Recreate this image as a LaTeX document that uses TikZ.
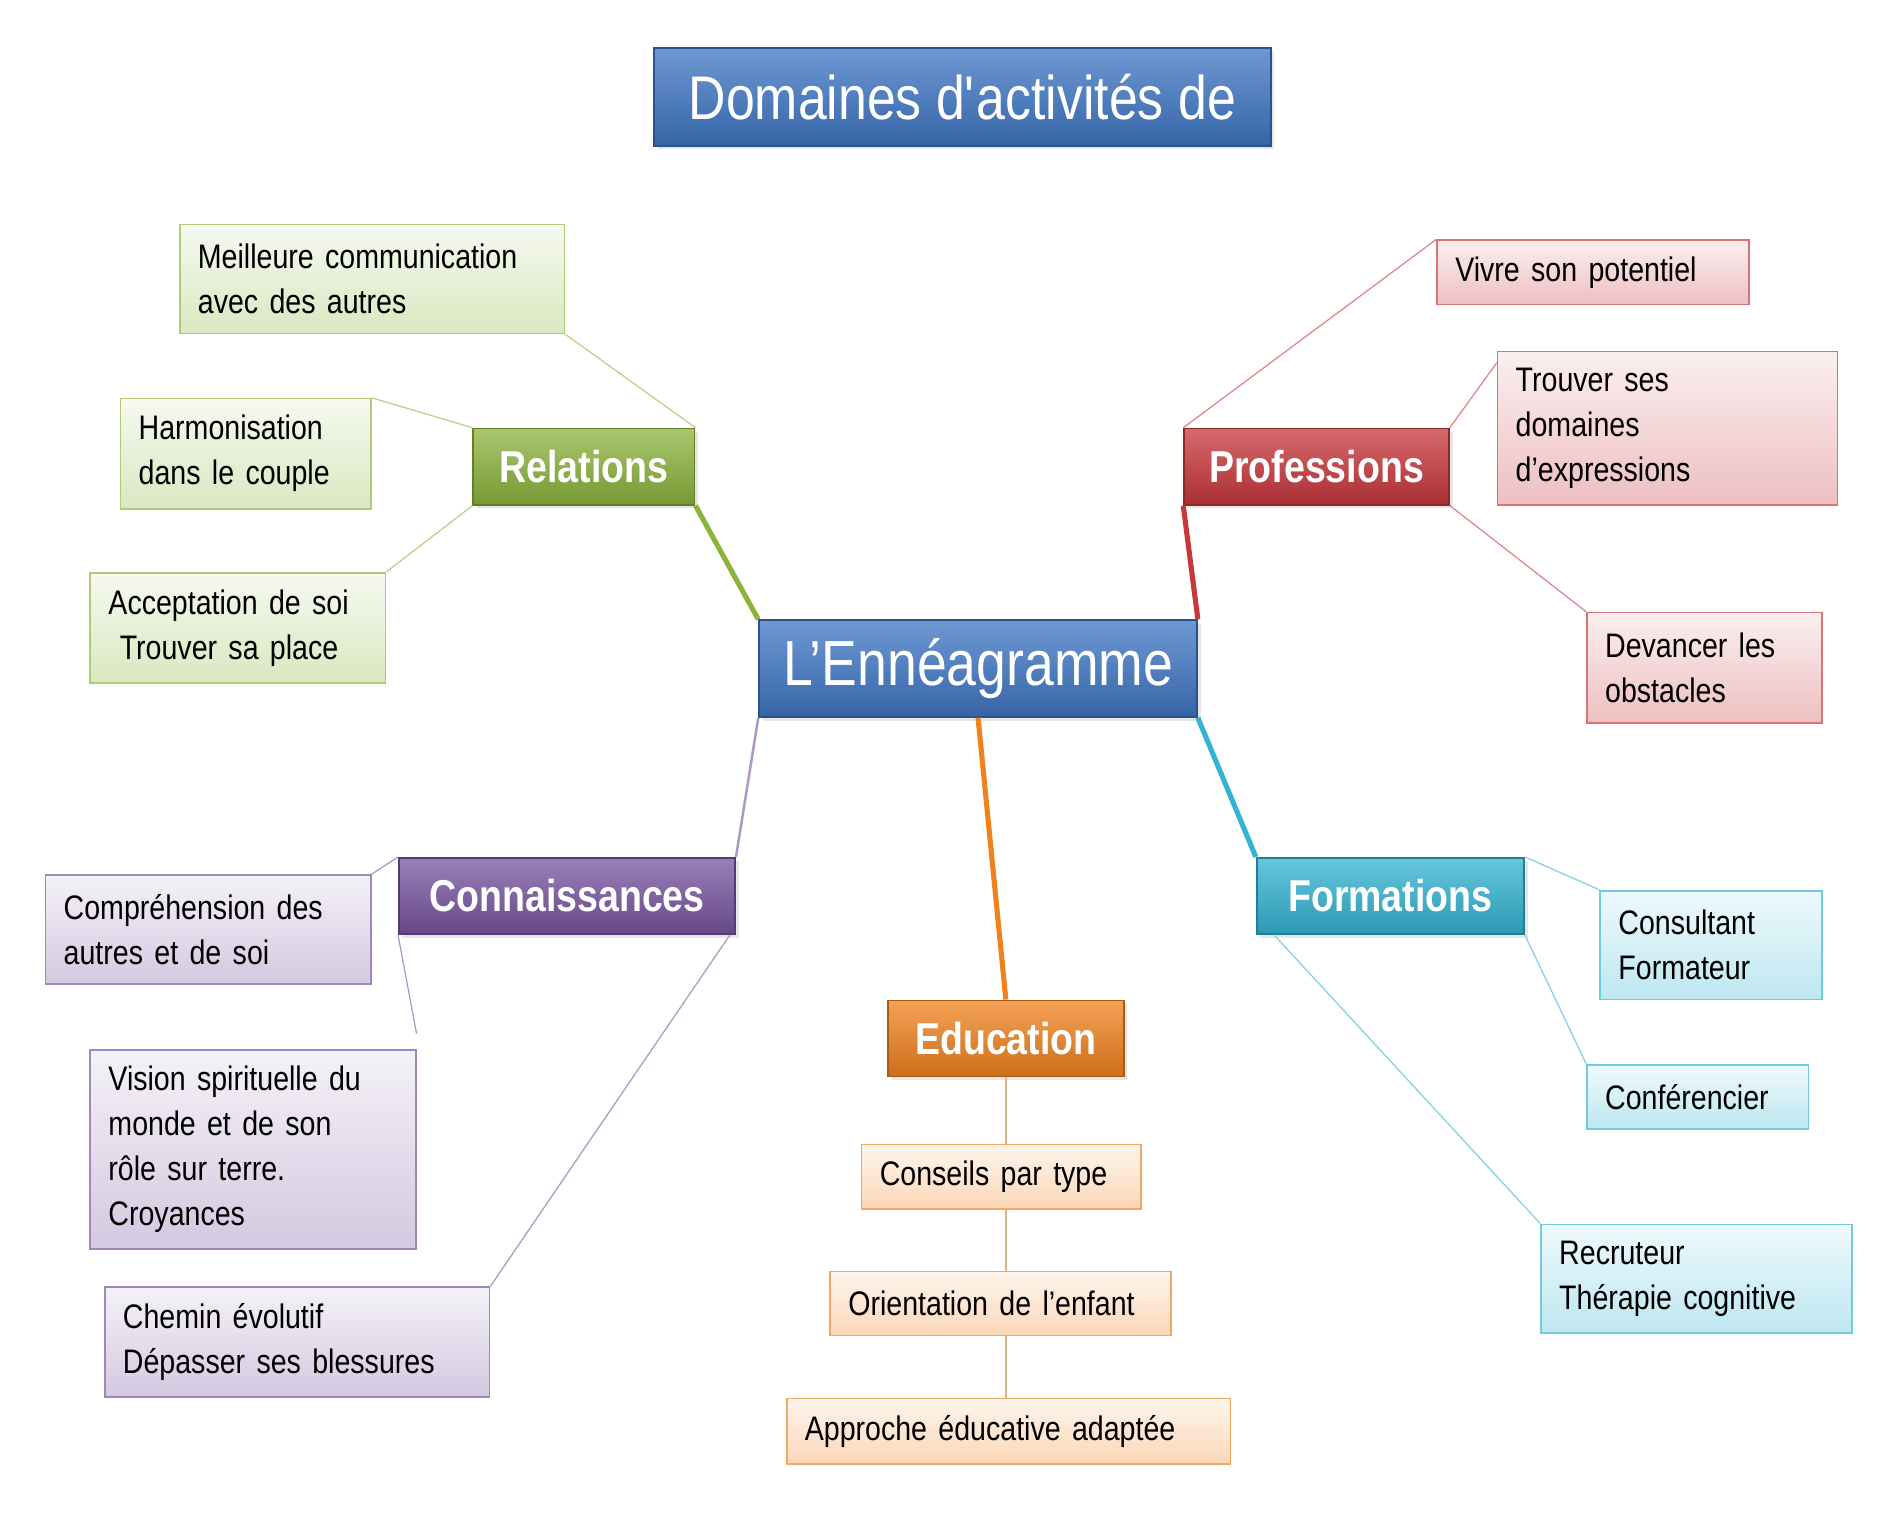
\documentclass[tikz,border=0pt]{standalone}
\usepackage{fontspec}
\setmainfont{Liberation Sans}[FakeStretch=0.84]
\usetikzlibrary{shadows}
\definecolor{titleblue}{RGB}{62,118,196}
\definecolor{relgreen}{RGB}{140,180,60}
\definecolor{prored}{RGB}{200,55,60}
\definecolor{conpurple}{RGB}{120,85,160}
\definecolor{forcyan}{RGB}{50,180,210}
\definecolor{eduorange}{RGB}{240,130,30}
\tikzset{
  branch/.style={draw=#1!70!black, top color=#1!75!white, bottom color=#1!85!black,
    text=white, font=\fontsize{10.5}{12}\selectfont\bfseries,
    drop shadow={opacity=0.2, shadow xshift=0.03cm, shadow yshift=-0.03cm}},
  leafbox/.style 2 args={draw=#1!70!white, top color=#1!8!white, bottom color=#1!32!white,
    align=left, font=\fontsize{8}{10.6}\selectfont, anchor=north west,
    inner xsep=0.15cm, text width=#2},
  link/.style={draw=#1!60!white, line width=0.3pt},
  mainlink/.style={draw=#1, line width=1.2pt}
}
\begin{document}
\begin{tikzpicture}[x=0.01cm,y=-0.01cm]
\useasboundingbox (0,0) rectangle (1560,1253);
% title and centre
\node[branch=titleblue, font=\fontsize{14.5}{17}\selectfont, minimum width=5.1cm, minimum height=0.81cm]
  (title) at (796,80) {Domaines d\textquotesingle activités de};
\node[branch=titleblue, font=\fontsize{15}{18}\selectfont, minimum width=3.62cm, minimum height=0.8cm]
  (centre) at (809,553) {L’Ennéagramme};
% branches
\node[branch=relgreen, minimum width=1.83cm, minimum height=0.63cm] (rel) at (483,386) {Relations};
\node[branch=prored, minimum width=2.19cm, minimum height=0.63cm] (pro) at (1089,386) {Professions};
\node[branch=conpurple, minimum width=2.78cm, minimum height=0.63cm] (con) at (469,741) {Connaissances};
\node[branch=forcyan, minimum width=2.21cm, minimum height=0.63cm] (for) at (1150,741) {Formations};
\node[branch=eduorange, minimum width=1.95cm, minimum height=0.63cm] (edu) at (832,859) {Education};
% leaves
\node[leafbox={relgreen}{2.88cm}, minimum height=0.9cm] (rel1) at (148,185) {Meilleure communication\\avec des autres};
\node[leafbox={relgreen}{1.77cm}, minimum height=0.91cm] (rel2) at (99,329) {Harmonisation\\dans le couple};
\node[leafbox={relgreen}{2.14cm}, minimum height=0.91cm] (rel3) at (74,473) {Acceptation de soi\\\ Trouver sa place};
\node[leafbox={prored}{2.28cm}, minimum height=0.53cm] (pro1) at (1188,198) {Vivre son potentiel};
\node[leafbox={prored}{2.51cm}, minimum height=1.27cm] (pro2) at (1238,290) {Trouver ses\\domaines\\d’expressions};
\node[leafbox={prored}{1.64cm}, minimum height=0.91cm] (pro3) at (1312,506) {Devancer les\\obstacles};
\node[leafbox={conpurple}{2.39cm}, minimum height=0.9cm] (con1) at (37,723) {Compréhension des\\autres et de soi};
\node[leafbox={conpurple}{2.39cm}, minimum height=1.64cm] (con2) at (74,868) {Vision spirituelle du\\monde et de son\\rôle sur terre.\\Croyances};
\node[leafbox={conpurple}{2.88cm}, minimum height=0.91cm] (con3) at (86,1064) {Chemin évolutif\\Dépasser ses blessures};
\node[leafbox={forcyan}{1.53cm}, minimum height=0.9cm] (for1) at (1323,736) {Consultant\\Formateur};
\node[leafbox={forcyan}{1.53cm}, minimum height=0.53cm] (for2) at (1312,880) {Conférencier};
\node[leafbox={forcyan}{2.27cm}, minimum height=0.9cm] (for3) at (1274,1012) {Recruteur\\Thérapie cognitive};
\node[leafbox={eduorange}{2.01cm}, minimum height=0.53cm] (edu1) at (712,946) {Conseils par type};
\node[leafbox={eduorange}{2.52cm}, minimum height=0.53cm] (edu2) at (686,1051) {Orientation de l’enfant};
\node[leafbox={eduorange}{3.37cm}, minimum height=0.54cm] (edu3) at (650,1156) {Approche éducative adaptée};
% main links
\draw[mainlink=relgreen] (rel.south east) -- (centre.north west);
\draw[mainlink=prored] (pro.south west) -- (centre.north east);
\draw[link=conpurple, line width=0.6pt] (con.north east) -- (centre.south west);
\draw[mainlink=forcyan] (for.north west) -- (centre.south east);
\draw[mainlink=eduorange] (edu.north) -- (centre.south);
% leaf links
\draw[link=relgreen] (rel1.south east) -- (rel.north east);
\draw[link=relgreen] (rel2.north east) -- (rel.north west);
\draw[link=relgreen] (rel3.north east) -- (rel.south west);
\draw[link=prored] (pro1.north west) -- (pro.north west);
\draw[link=prored] (pro2.north west) ++(0,10) -- (pro.north east);
\draw[link=prored] (pro3.north west) -- (pro.south east);
\draw[link=conpurple] (con1.north east) -- (con.north west);
\draw[link=conpurple] (con2.north east) ++(0,-13) -- (con.south west);
\draw[link=conpurple] (con3.north east) -- ([xshift=-0.05cm]con.south east);
\draw[link=forcyan] (for1.north west) -- (for.north east);
\draw[link=forcyan] (for2.north west) -- (for.south east);
\draw[link=forcyan] (for3.north west) -- ([xshift=0.15cm]for.south west);
\draw[link=eduorange!60!gray] (edu.south) -- (edu1.north -| edu.south);
\draw[link=eduorange!60!gray] (edu1.south -| edu.south) -- (edu2.north -| edu.south);
\draw[link=eduorange!60!gray] (edu2.south -| edu.south) -- (edu3.north -| edu.south);
\end{tikzpicture}
\end{document}
